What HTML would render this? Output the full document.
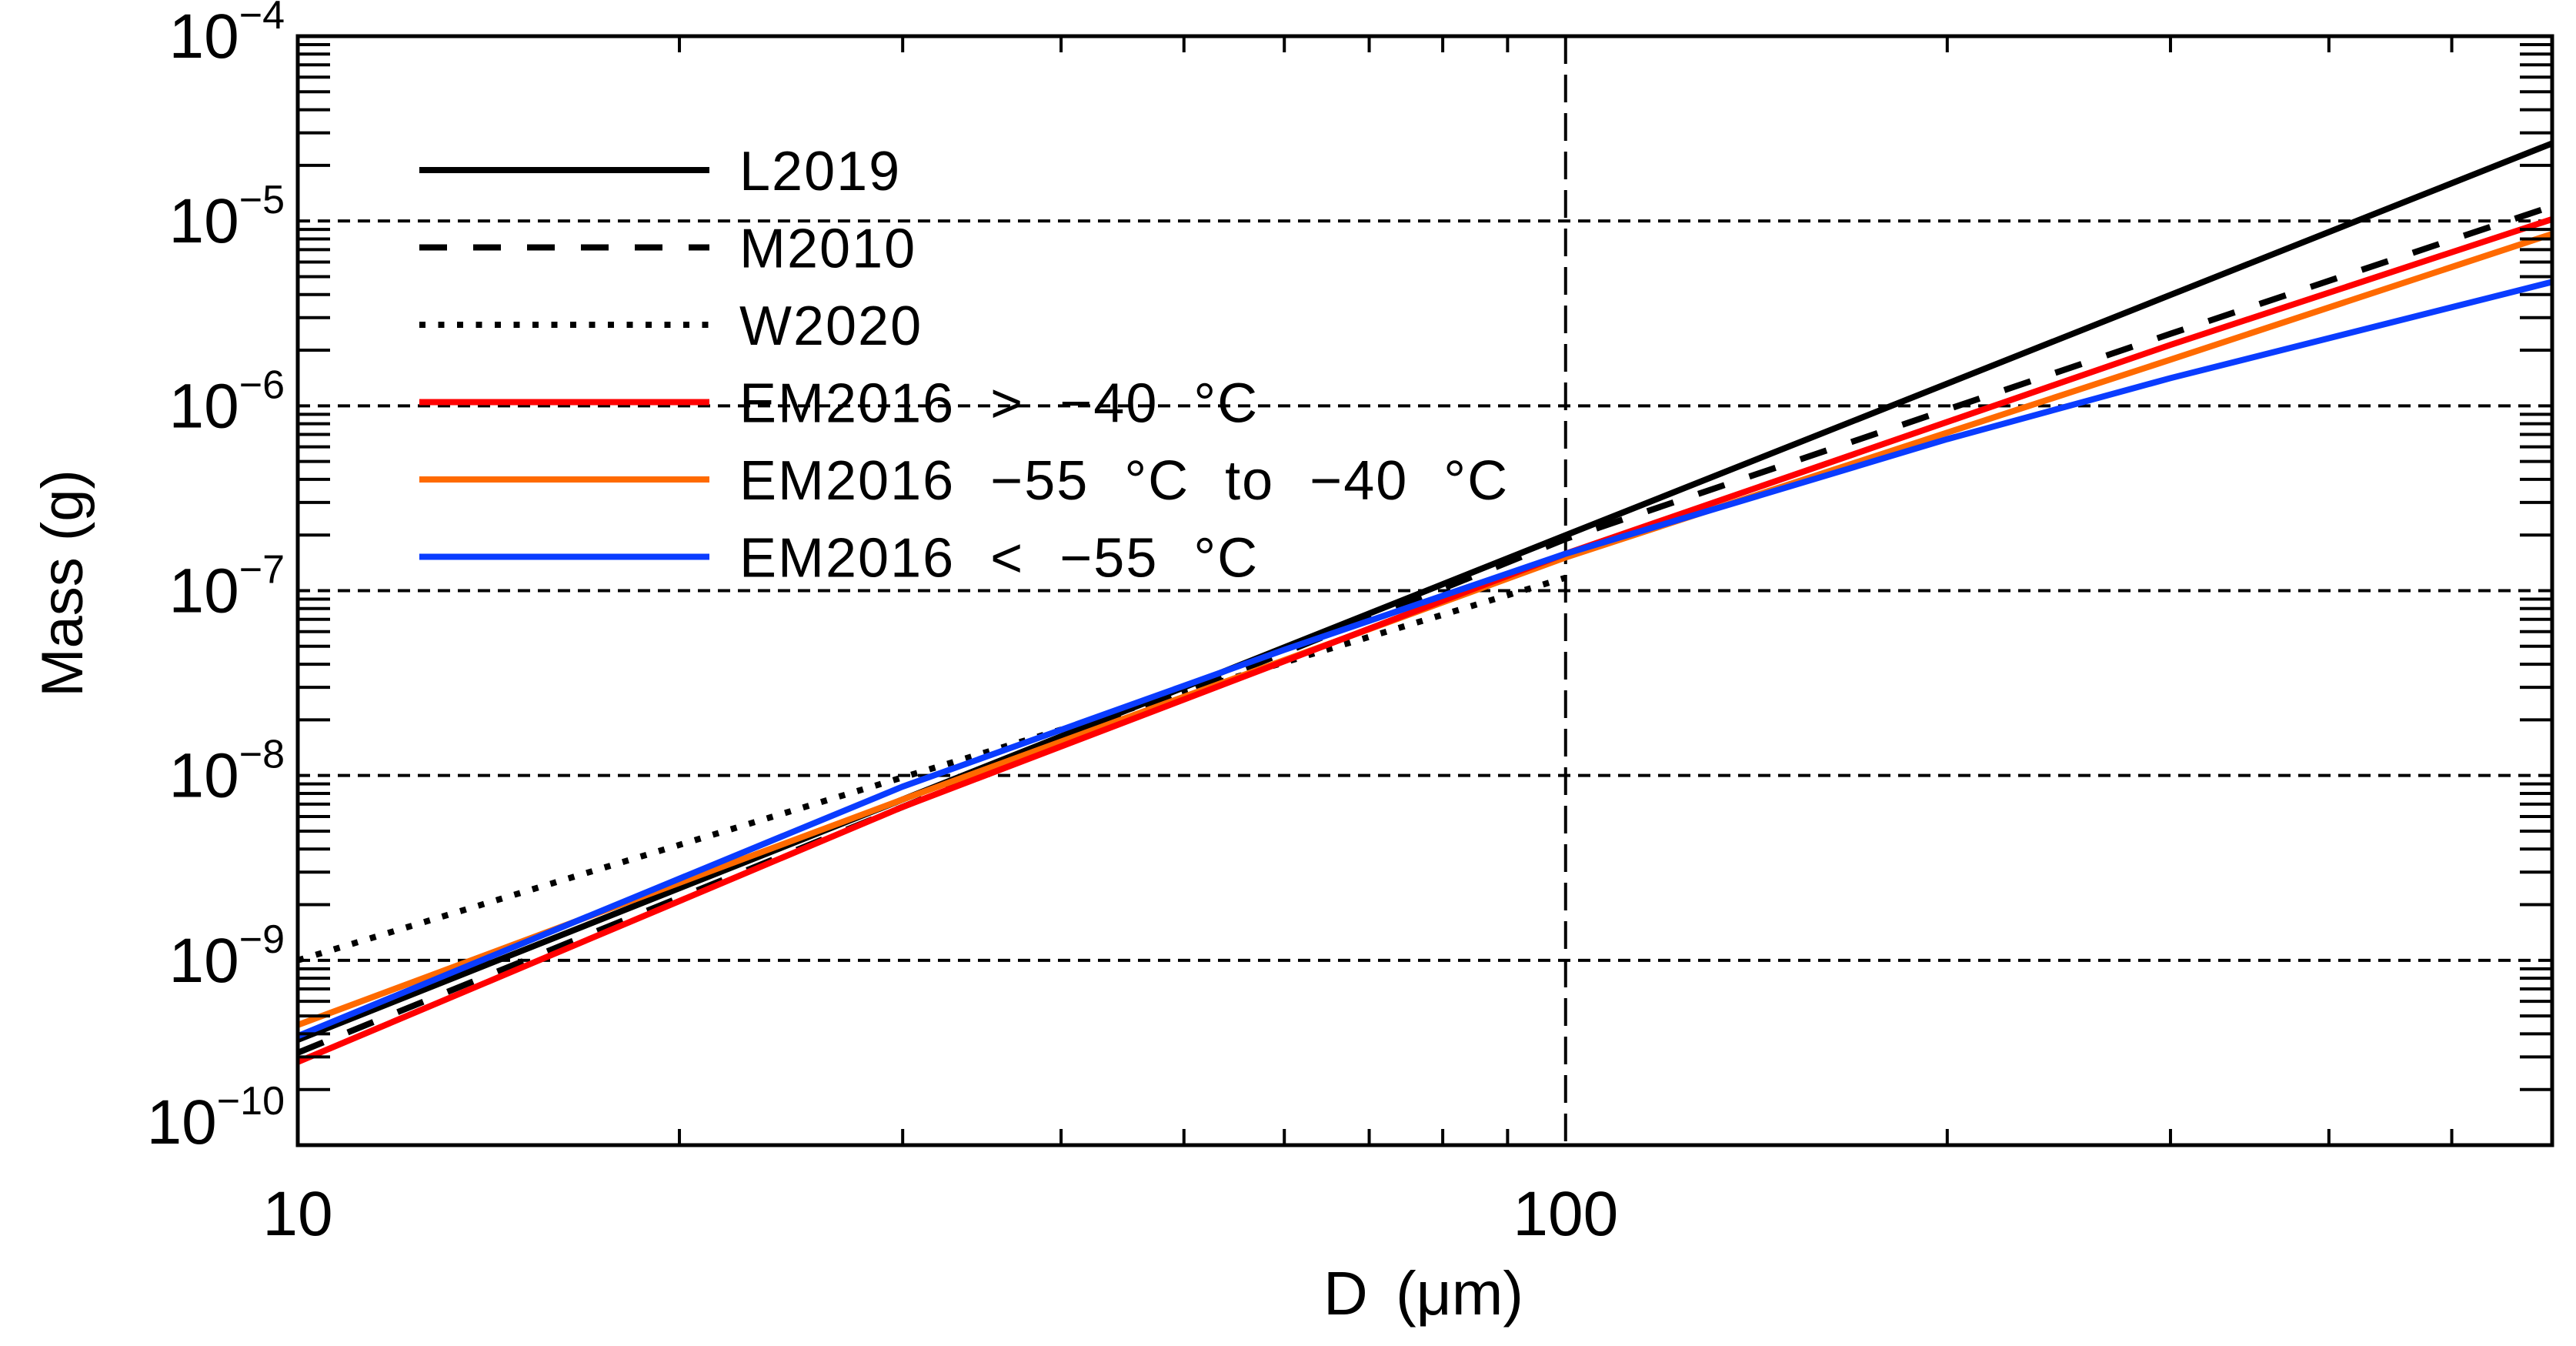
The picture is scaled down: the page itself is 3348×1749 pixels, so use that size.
<!DOCTYPE html>
<html><head><meta charset="utf-8"><style>
html,body{margin:0;padding:0;background:#fff;}
svg{display:block;font-family:"Liberation Sans",Arial,sans-serif;}
</style></head><body>
<svg id="chart" width="3348" height="1749" viewBox="0 0 3348 1749" xmlns="http://www.w3.org/2000/svg">
<g id="grid"></g>
<g id="series"></g>
<g id="axes"></g>
<g id="legend"></g>
<text x="1850" y="1708" font-size="80" text-anchor="middle" word-spacing="14">D (μm)</text>
<text x="0" y="0" font-size="76" text-anchor="middle" transform="translate(107,758) rotate(-90)">Mass (g)</text>
</svg>
<script>
// data (log10 of mass in g at given diameters in µm)
const dL2019 = [10, 30, 100, 300, 600];
const mL2019 = [-9.43, -8.13, -6.70, -5.40, -4.58];
const dM2010 = [10, 30, 100, 300, 600];
const mM2010 = [-9.50, -8.17, -6.72, -5.61, -4.92];
const dW2020 = [10, 30, 100];
const mW2020 = [-9.00, -8.01, -6.93];
const dEMwarm = [10, 30, 100, 300, 600];
const mEMwarm = [-9.55, -8.17, -6.80, -5.67, -4.99];
const dEMmid = [10, 30, 100, 300, 600];
const mEMmid = [-9.35, -8.13, -6.82, -5.75, -5.07];
const dEMcold = [10, 30, 60, 100, 200, 300, 600];
const mEMcold = [-9.41, -8.06, -7.32, -6.80, -6.18, -5.85, -5.33];
const xTickLabels = ["10", "100"];
const xTickValues = [10, 100];
const yTickExps = ["−4", "−5", "−6", "−7", "−8", "−9", "−10"];
const yTickValues = [-4, -5, -6, -7, -8, -9, -10];
const legendLabels = ["L2019", "M2010", "W2020", "EM2016 > −40 °C", "EM2016 −55 °C to −40 °C", "EM2016 < −55 °C"];

const L = 387, R = 3317, T = 47, B = 1488;
const xMin = 1, xMax = Math.log10(600), yMin = -10, yMax = -4;
function xs(d) { return L + (Math.log10(d) - xMin) / (xMax - xMin) * (R - L); }
function ys(lm) { return B - (lm - yMin) / (yMax - yMin) * (B - T); }
const NS = "http://www.w3.org/2000/svg";
function mk(tag, parent, attrs) {
  const e = document.createElementNS(NS, tag);
  for (const k in attrs) e.setAttribute(k, attrs[k]);
  parent.appendChild(e);
  return e;
}
const grid = document.getElementById('grid');
const axes = document.getElementById('axes');
const series = document.getElementById('series');
const legend = document.getElementById('legend');

for (let i = 1; i < yTickValues.length - 1; i++) {
  const y = ys(yTickValues[i]);
  const g = mk('line', grid, {x1: L, x2: R, y1: y, y2: y, stroke: '#000', 'stroke-width': 4, 'stroke-dasharray': '16 10'});
  
  
}
{
  const x = xs(100);
  const g = mk('line', grid, {x1: x, x2: x, y1: T, y2: B, stroke: '#000', 'stroke-width': 4, 'stroke-dasharray': '36 14'});
  
  
}

function drawSeries(ds, ms, color, dash, name, w) {
  const pts = ds.map((d, i) => xs(d).toFixed(1) + ',' + ys(ms[i]).toFixed(1)).join(' ');
  const p = mk('polyline', series, {points: pts, fill: 'none', stroke: color, 'stroke-width': w, 'stroke-dasharray': dash});
  
  
}
drawSeries(dW2020, mW2020, '#000', '8 16.5', 'series-w2020', 8);
drawSeries(dM2010, mM2010, '#000', '36 34', 'series-m2010', 8);
drawSeries(dL2019, mL2019, '#000', 'none', 'series-l2019', 8);
drawSeries(dEMmid, mEMmid, '#ff6a00', 'none', 'series-em2016-mid', 8);
drawSeries(dEMwarm, mEMwarm, '#ff0000', 'none', 'series-em2016-warm', 8);
drawSeries(dEMcold, mEMcold, '#0a3cff', 'none', 'series-em2016-cold', 8);

const fr = mk('rect', axes, {x: L, y: T, width: R - L, height: B - T, fill: 'none', stroke: '#000', 'stroke-width': 5});



for (let e = -10; e < -4; e++) {
  for (let m = 2; m <= 9; m++) {
    const y = ys(e + Math.log10(m));
    const t1 = mk('line', axes, {x1: L, x2: L + 42, y1: y, y2: y, stroke: '#000', 'stroke-width': 4});
    
    
    const t2 = mk('line', axes, {x1: R - 42, x2: R, y1: y, y2: y, stroke: '#000', 'stroke-width': 4});
    
    
  }
}
for (const base of [10, 100]) {
  for (let m = 2; m <= 9; m++) {
    const d = base * m;
    if (d > 600) continue;
    const x = xs(d);
    const t1 = mk('line', axes, {x1: x, x2: x, y1: B, y2: B - 21, stroke: '#000', 'stroke-width': 4});
    
    
    const t2 = mk('line', axes, {x1: x, x2: x, y1: T, y2: T + 21, stroke: '#000', 'stroke-width': 4});
    
    
  }
}
yTickValues.forEach((v, i) => {
  const y = ys(v);
  const off = (i === yTickValues.length - 1) ? -2 : 28;
  const t = mk('text', axes, {x: 370, y: y + off, 'font-size': 82, 'text-anchor': 'end'});
  
  
  const a = mk('tspan', t, {});
  a.textContent = '10';
  const b = mk('tspan', t, {'font-size': 52, dy: -38});
  b.textContent = yTickExps[i];
});
xTickValues.forEach((v, i) => {
  const t = mk('text', axes, {x: xs(v), y: 1605, 'font-size': 82, 'text-anchor': 'middle'});
  
  
  t.textContent = xTickLabels[i];
});

const legColors = ['#000', '#000', '#000', '#ff0000', '#ff6a00', '#0a3cff'];
const legDash = ['none', '36 34', '8 16.5', 'none', 'none', 'none'];
legendLabels.forEach((lab, i) => {
  const y = 221 + i * 100.5;
  const ln = mk('line', legend, {x1: 545, x2: 922, y1: y, y2: y, stroke: legColors[i], 'stroke-width': 8, 'stroke-dasharray': legDash[i]});
  
  
  const t = mk('text', legend, {x: 961, y: y + 26, 'font-size': 72, 'letter-spacing': 2, 'word-spacing': 24});
  
  
  t.textContent = lab;
});
</script>
</body></html>
